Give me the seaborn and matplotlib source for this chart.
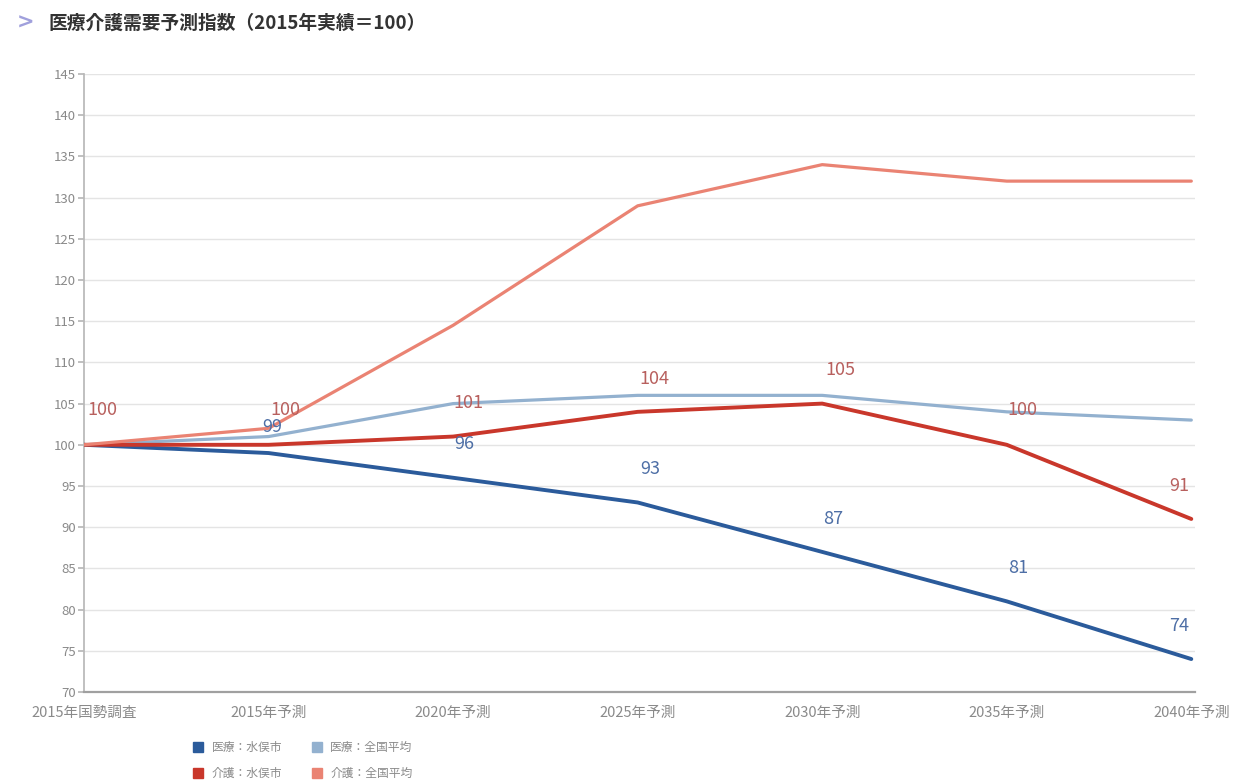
import matplotlib
matplotlib.use("Agg")
import matplotlib.pyplot as plt
from matplotlib.lines import Line2D
import pandas as pd
import seaborn as sns

# Categories and index values (2015 actual = 100)
periods = ["2015年国勢調査", "2015年予測", "2020年予測", "2025年予測",
           "2030年予測", "2035年予測", "2040年予測"]
medical_city = [100, 99, 96, 93, 87, 81, 74]
medical_nation = [100, 101, 105, 106, 106, 104, 103]
care_city = [100, 100, 101, 104, 105, 100, 91]
care_nation = [100, 102, 114.5, 129, 134, 132, 132]

series_names = ["医療：水俣市", "医療：全国平均", "介護：水俣市", "介護：全国平均"]
series_values = [medical_city, medical_nation, care_city, care_nation]
series_colors = ["#2b5b9b", "#93b1cf", "#c9372b", "#ea8373"]
series_widths = [2.8, 2.3, 2.8, 2.3]

y_ticks = list(range(70, 146, 5))

sns.set_theme(style="white")
plt.rcParams["font.family"] = ["Noto Sans CJK JP", "DejaVu Sans"]

rows = []
for name, vals in zip(series_names, series_values):
    for i, (p, v) in enumerate(zip(periods, vals)):
        rows.append({"period": p, "idx": i, "series": name, "value": v})
df = pd.DataFrame(rows)

fig = plt.figure(figsize=(12.48, 7.82), dpi=100)
ax = fig.add_axes([84 / 1248, 1 - 692 / 782, (1195 - 84) / 1248, (692 - 74) / 782])

# draw back to front so the city lines sit on top
draw_order = [1, 3, 2, 0]
for k in draw_order:
    sub = df[df["series"] == series_names[k]]
    sns.lineplot(data=sub, x="idx", y="value", color=series_colors[k],
                 linewidth=series_widths[k], ax=ax, legend=False,
                 solid_capstyle="round", solid_joinstyle="round", zorder=3 + k)

ax.set_xlim(0, 6.02)
ax.set_ylim(70, 145)
ax.set_yticks(y_ticks)
ax.set_yticklabels([str(t) for t in y_ticks], color="#8a8a8a", fontsize=9.5)
ax.set_xticks(range(len(periods)))
ax.set_xticklabels(periods, color="#8a8a8a", fontsize=10.5)
ax.set_xlabel("")
ax.set_ylabel("")
ax.grid(axis="y", color="#e4e4e4", linewidth=1.0)
ax.grid(axis="x", visible=False)
for s in ["top", "right"]:
    ax.spines[s].set_visible(False)
ax.spines["left"].set_color("#b8b8b8")
ax.spines["bottom"].set_color("#a0a0a0")
ax.spines["bottom"].set_linewidth(1.6)
ax.tick_params(axis="y", which="major", left=True, length=4, color="#b8b8b8", pad=2)
ax.tick_params(axis="x", which="major", bottom=False, pad=4)

# value labels for the city series: (series, colour, per-point x/y offsets in points)
care_offsets = [(13, 25), (12, 25), (11, 24), (12, 24), (13, 24), (11, 25), (-9, 24)]
medical_offsets = [None, (3, 19), (8, 24), (9, 24), (8, 24), (8, 24), (-9, 24)]
label_specs = [(care_city, "#b8605e", care_offsets),
               (medical_city, "#4e6fa6", medical_offsets)]
for vals, col, offs in label_specs:
    for i, v in enumerate(vals):
        if offs[i] is None:
            continue
        ax.annotate(f"{v:g}", (i, v), xytext=offs[i], textcoords="offset points",
                    ha="center", va="center", fontsize=13, color=col, zorder=10)

# legend below the chart
handles = [Line2D([], [], marker="s", linestyle="none", markersize=7,
                  markerfacecolor=c, markeredgecolor=c) for c in series_colors]
order = [0, 2, 1, 3]
fig.legend([handles[i] for i in order], [series_names[i] for i in order],
           loc="upper left", bbox_to_anchor=(189 / 1248, 1 - 736 / 782),
           ncol=2, frameon=False, fontsize=8.5, labelcolor="#8a8a8a",
           handlelength=0.8, handletextpad=0.7, columnspacing=2.6,
           labelspacing=1.1, borderaxespad=0)

# title
fig.text(17 / 1248, 1 - 23 / 782, ">", color="#a0a0dc", fontsize=15,
         fontweight="bold", va="center", ha="left", family=["DejaVu Sans"])
fig.text(48 / 1248, 1 - 23 / 782, "医療介護需要予測指数（2015年実績＝100）",
         color="#333333", fontsize=13.5, fontweight="bold", va="center", ha="left")

fig.savefig("out.png", dpi=100, facecolor="white")
